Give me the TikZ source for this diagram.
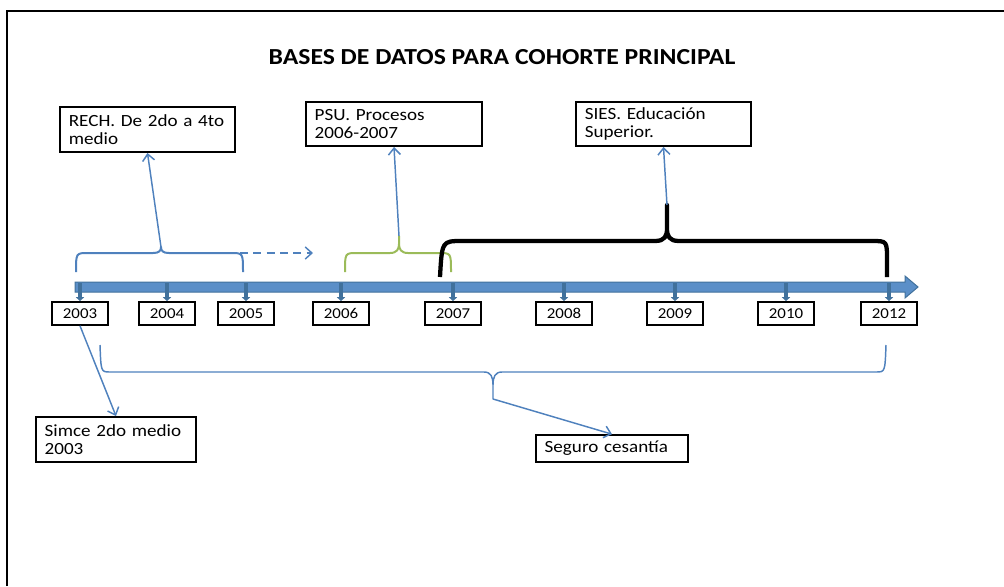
\documentclass[tikz,border=0pt]{standalone}
\usepackage{fontspec}
\setmainfont{Carlito}[FakeStretch=1.12]
\usetikzlibrary{arrows.meta}

\definecolor{linkblue}{RGB}{79,129,189}
\definecolor{axisfill}{RGB}{91,143,200}
\definecolor{axisdark}{RGB}{65,113,156}
\definecolor{psugreen}{RGB}{155,187,89}

\tikzset{
  yearbox/.style={draw,line width=1.5pt,minimum width=42pt,minimum height=17pt,inner sep=0pt,font=\fontsize{11.3}{12}\selectfont},
  infobox/.style={draw,line width=1.5pt,align=left,inner xsep=6.5pt,font=\fontsize{12.8}{13}\selectfont},
  link/.style={linkblue,line width=1.1pt,-{Straight Barb[length=5pt,width=9pt]}},
  yeartick/.style={axisdark,line width=3pt,-{Triangle[length=3pt,width=6pt]}},
  bracket/.style={line width=1.5pt,line join=round},
}

\begin{document}
\begin{tikzpicture}[x=0.75pt,y=-0.75pt]
\useasboundingbox (0,0) rectangle (1004,586);

% frame and title
\draw[line width=1.5pt] (7,586) -- (7,11) -- (1004,11);
\node[font=\bfseries\fontsize{17.2}{20}\selectfont] (title) at (502,57) {BASES DE DATOS PARA COHORTE PRINCIPAL};

% time axis
\draw[fill=axisfill,draw=axisdark,line width=0.75pt] (75,282) -- (905,282) -- (905,276) -- (918,287) -- (905,298) -- (905,292) -- (75,292) -- cycle;

\foreach \yr/\x in {2003/80,2004/167,2005/246,2006/341,2007/453,2008/564,2009/675,2010/786,2012/889}{
  \node[yearbox] (y\yr) at (\x,313.5) {\yr};
  \draw[yeartick] (\x,283) -- (y\yr.north);
}

% data sources
\node[infobox,text width=118pt,minimum height=33.75pt] (rech) at (147.5,129.5) {RECH. De 2do a 4to\\medio};
\node[infobox,text width=119pt,minimum height=33pt] (psu) at (394,124) {PSU. Procesos\\2006-2007};
\node[infobox,text width=118pt,minimum height=33pt] (sies) at (663.5,124) {SIES. Educación\\Superior.};
\node[infobox,text width=107pt,minimum height=33.75pt] (simce) at (116,439.5) {Simce 2do medio\\2003};
\node[infobox,text width=101pt,minimum height=20pt] (seguro) at (612,448.5) {Seguro cesantía};

% brackets
\draw[bracket,linkblue] (76,272) .. controls (76,253) .. (88,253) -- (153,253)
  .. controls (159,253) and (161,251) .. (161,247) coordinate (rechtip)
  .. controls (161,251) and (163,253) .. (169,253) -- (231,253) .. controls (243,253) .. (243,272);
\draw[bracket,psugreen] (345,272) .. controls (345,253) .. (357,253) -- (390,253)
  .. controls (397,253) and (399,249) .. (399,244) -- (399,236) coordinate (psutip) -- (399,244)
  .. controls (399,249) and (401,253) .. (408,253) -- (439,253) .. controls (451,253) .. (451,272);
\draw[bracket,line width=3.2pt] (440,277) .. controls (442,241) .. (462,241) -- (655,241)
  .. controls (665,241) and (667,236) .. (667,228) -- (667,205) coordinate (siestip) -- (667,228)
  .. controls (667,236) and (669,241) .. (679,241) -- (872,241) .. controls (887,241) .. (887,260) -- (887,277);
\draw[bracket,linkblue,line width=1.1pt] (100,345) .. controls (101,372) .. (110,372) -- (484,372)
  .. controls (491,372) and (493,377) .. (493,385) -- (493,399) coordinate (segurotip) -- (493,385)
  .. controls (493,377) and (495,372) .. (502,372) -- (876,372) .. controls (885,372) .. (886,345);

% connectors
\coordinate (dashstart) at (240,253);
\coordinate (dashend) at (313,253);
\draw[link,dashed,dash pattern=on 6pt off 4pt] (dashstart) -- (dashend);
\draw[link] (rechtip) -- (rech.south);
\draw[link] (psutip) -- (psu.south);
\draw[link] (siestip) -- (sies.south);
\draw[link] (y2003.south) -- (simce.north);
\draw[link] (segurotip) -- (seguro.north);
\end{tikzpicture}
\end{document}
